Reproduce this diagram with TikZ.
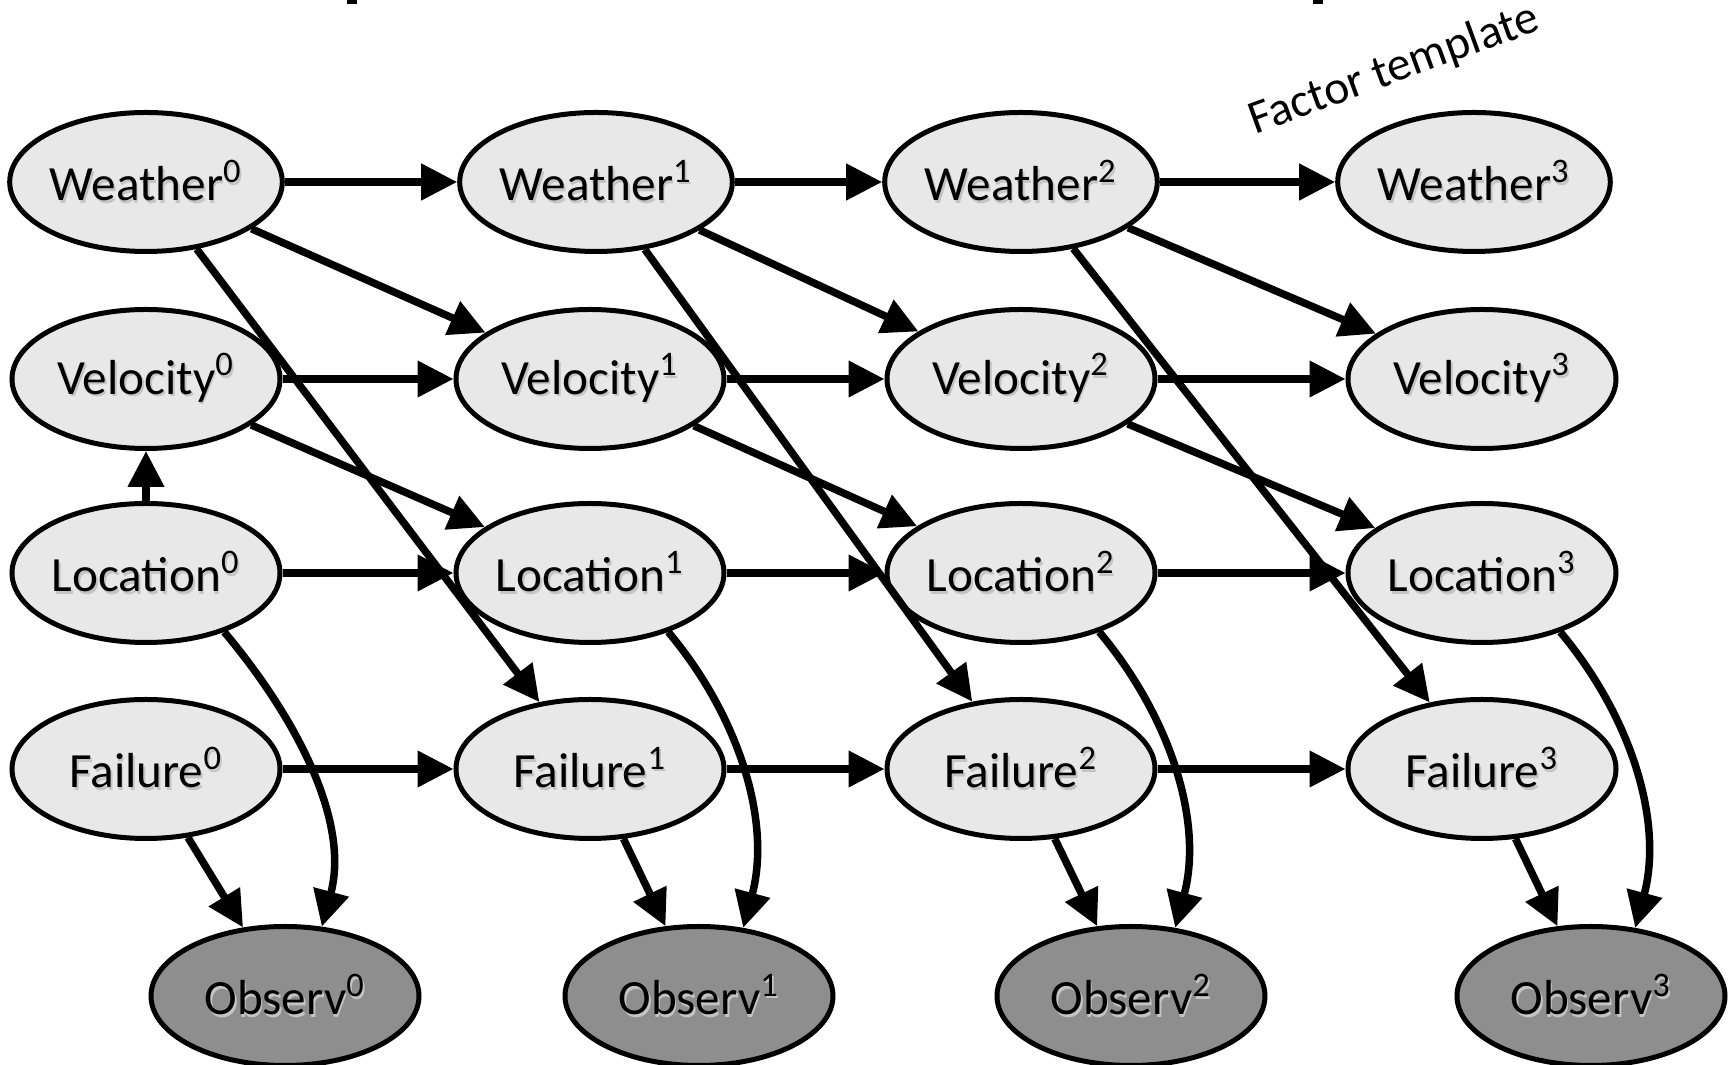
\documentclass[tikz,border=0pt]{standalone}
\usepackage{fontspec}
\setmainfont{Carlito}
\usepackage{xcolor}
\usepackage{tikz}
\usetikzlibrary{arrows.meta,shapes.geometric}
\definecolor{StateGray}{HTML}{E8E8E8}
\definecolor{ObsGray}{HTML}{8E8E8E}
\definecolor{ShadowGray}{HTML}{C4C4C4}
% label with a soft drop shadow
\newcommand{\varlab}[2]{%
  \makebox[0pt][l]{\kern0.5pt\raisebox{-0.7pt}{\textcolor{ShadowGray}{#1\textsuperscript{#2}}}}%
  #1\textsuperscript{#2}}
\tikzset{
  statebox/.style={
    ellipse,
    draw=black,
    line width=0.5mm,
    fill=StateGray,
    minimum width=26.8mm,
    minimum height=13.9mm,
    inner sep=0pt,
    font=\fontsize{14}{16}\selectfont
  },
  obsbox/.style={statebox, fill=ObsGray},
  deparrow/.style={-{Triangle[length=3.6mm,width=3.5mm]}, line width=0.75mm},
  templabel/.style={font=\fontsize{13.5}{15}\selectfont, rotate=20}
}

\begin{document}
\begin{tikzpicture}
  \useasboundingbox (0,0) rectangle (17.31,10.65);

  \node[statebox] (w0) at (1.46,8.83) {\varlab{Weather}{0}};
  \node[statebox] (w1) at (5.96,8.83) {\varlab{Weather}{1}};
  \node[statebox] (w2) at (10.21,8.83) {\varlab{Weather}{2}};
  \node[statebox] (w3) at (14.74,8.83) {\varlab{Weather}{3}};

  \node[statebox] (v0) at (1.46,6.86) {\varlab{Velocity}{0}};
  \node[statebox] (v1) at (5.90,6.86) {\varlab{Velocity}{1}};
  \node[statebox] (v2) at (10.21,6.86) {\varlab{Velocity}{2}};
  \node[statebox] (v3) at (14.82,6.86) {\varlab{Velocity}{3}};

  \node[statebox] (l0) at (1.46,4.92) {\varlab{Location}{0}};
  \node[statebox] (l1) at (5.90,4.92) {\varlab{Location}{1}};
  \node[statebox] (l2) at (10.21,4.92) {\varlab{Location}{2}};
  \node[statebox] (l3) at (14.82,4.92) {\varlab{Location}{3}};

  \node[statebox] (f0) at (1.46,2.96) {\varlab{Failure}{0}};
  \node[statebox] (f1) at (5.90,2.96) {\varlab{Failure}{1}};
  \node[statebox] (f2) at (10.21,2.96) {\varlab{Failure}{2}};
  \node[statebox] (f3) at (14.82,2.96) {\varlab{Failure}{3}};

  \node[obsbox] (o0) at (2.85,0.69) {\varlab{Observ}{0}};
  \node[obsbox] (o1) at (6.99,0.69) {\varlab{Observ}{1}};
  \node[obsbox] (o2) at (11.31,0.69) {\varlab{Observ}{2}};
  \node[obsbox] (o3) at (15.91,0.69) {\varlab{Observ}{3}};

  \node[templabel] (tmpl) at (13.94,9.95) {Factor template};

  % transitions between slices
  \foreach \t/\n in {0/1, 1/2, 2/3} {
    \draw[deparrow] (w\t) -- (w\n);
    \draw[deparrow] (w\t) -- (v\n);
    \draw[deparrow] (w\t) -- (f\n);
    \draw[deparrow] (v\t) -- (v\n);
    \draw[deparrow] (v\t) -- (l\n);
    \draw[deparrow] (l\t) -- (l\n);
    \draw[deparrow] (f\t) -- (f\n);
  }
  % sensor model
  \foreach \t/\a in {0/62, 1/57, 2/57, 3/57} {
    \draw[deparrow] (f\t) -- (o\t);
    \draw[deparrow] (l\t.-37) .. controls +(-50:1.1) and +(75:1.1) .. (o\t.\a);
  }
  \draw[deparrow] (l0) -- (v0);

  % clipped marks at the top edge
  \fill (3.47,10.61) rectangle (3.57,10.65);
  \fill (13.13,10.61) rectangle (13.23,10.65);
\end{tikzpicture}
\end{document}
